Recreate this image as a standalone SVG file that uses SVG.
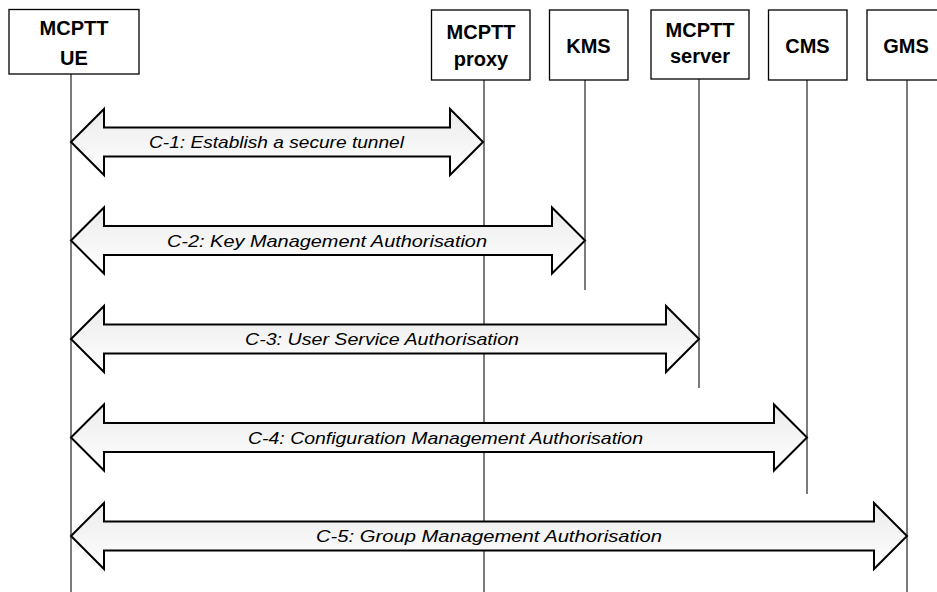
<svg xmlns="http://www.w3.org/2000/svg" width="937" height="592" viewBox="0 0 937 592">
<defs>
  <linearGradient id="fillg" x1="0" y1="0" x2="0" y2="1">
    <stop offset="0" stop-color="#ebebeb"/>
    <stop offset="1" stop-color="#ffffff"/>
  </linearGradient>
  <style>
    .box{fill:#ffffff;stroke:#000000;stroke-width:1.3}
    .life{stroke:#222222;stroke-width:1.2;fill:none}
    .name{font-family:"Liberation Sans",Arial,sans-serif;font-weight:bold;font-size:20px;fill:#000000;text-anchor:middle}
    .arrow{fill:url(#fillg);stroke:#000000;stroke-width:2;stroke-linejoin:miter}
    .lbl{font-family:"Liberation Sans",Arial,sans-serif;font-style:italic;font-size:17px;fill:#000000;text-anchor:middle}
  </style>
</defs>
<rect width="937" height="592" fill="#ffffff"/>

<g id="node-ue">
  <line class="life" x1="71" y1="74" x2="71" y2="592"/>
  <rect class="box" x="9" y="9.5" width="130" height="64.5"/>
  <text class="name" x="74" y="35">MCPTT</text>
  <text class="name" x="74" y="65">UE</text>
</g>
<g id="node-proxy">
  <line class="life" x1="484" y1="80" x2="484" y2="592"/>
  <rect class="box" x="431.5" y="10" width="98.5" height="70"/>
  <text class="name" x="481" y="39">MCPTT</text>
  <text class="name" x="481" y="66">proxy</text>
</g>
<g id="node-kms">
  <line class="life" x1="585" y1="80" x2="585" y2="290"/>
  <rect class="box" x="549.5" y="10" width="78.5" height="70"/>
  <text class="name" x="588.5" y="53">KMS</text>
</g>
<g id="node-server">
  <line class="life" x1="699" y1="79" x2="699" y2="388"/>
  <rect class="box" x="651" y="10" width="98" height="69"/>
  <text class="name" x="700" y="37">MCPTT</text>
  <text class="name" x="700" y="63">server</text>
</g>
<g id="node-cms">
  <line class="life" x1="807" y1="80" x2="807" y2="494"/>
  <rect class="box" x="768.5" y="10" width="78.5" height="70"/>
  <text class="name" x="807.5" y="53">CMS</text>
</g>
<g id="node-gms">
  <line class="life" x1="907" y1="80" x2="907" y2="592"/>
  <rect class="box" x="867" y="10" width="78" height="70"/>
  <text class="name" x="906" y="53">GMS</text>
</g>

<g id="connectors">
  <g id="c1">
    <path class="arrow" d="M71,142 L104,109 L104,127.5 L450,127.5 L450,109 L483,142 L450,175 L450,156.5 L104,156.5 L104,175 Z"/>
    <text class="lbl" x="276.5" y="148" textLength="255" lengthAdjust="spacingAndGlyphs">C-1: Establish a secure tunnel</text>
  </g>
  <g id="c2">
    <path class="arrow" d="M71,240.5 L104,207.5 L104,226 L552,226 L552,207.5 L585,240.5 L552,273.5 L552,255 L104,255 L104,273.5 Z"/>
    <text class="lbl" x="327" y="246.5" textLength="320" lengthAdjust="spacingAndGlyphs">C-2: Key Management Authorisation</text>
  </g>
  <g id="c3">
    <path class="arrow" d="M71,339 L104,306 L104,324.5 L666,324.5 L666,306 L699,339 L666,372 L666,353.5 L104,353.5 L104,372 Z"/>
    <text class="lbl" x="382" y="345" textLength="274" lengthAdjust="spacingAndGlyphs">C-3: User Service Authorisation</text>
  </g>
  <g id="c4">
    <path class="arrow" d="M71,437.5 L104,404.5 L104,423 L774,423 L774,404.5 L807,437.5 L774,470.5 L774,452 L104,452 L104,470.5 Z"/>
    <text class="lbl" x="445.5" y="443.5" textLength="395" lengthAdjust="spacingAndGlyphs">C-4: Configuration Management Authorisation</text>
  </g>
  <g id="c5">
    <path class="arrow" d="M71,536 L104,503 L104,521.5 L874,521.5 L874,503 L907,536 L874,569 L874,550.5 L104,550.5 L104,569 Z"/>
    <text class="lbl" x="489" y="542" textLength="346" lengthAdjust="spacingAndGlyphs">C-5: Group Management Authorisation</text>
  </g>
</g>
</svg>
